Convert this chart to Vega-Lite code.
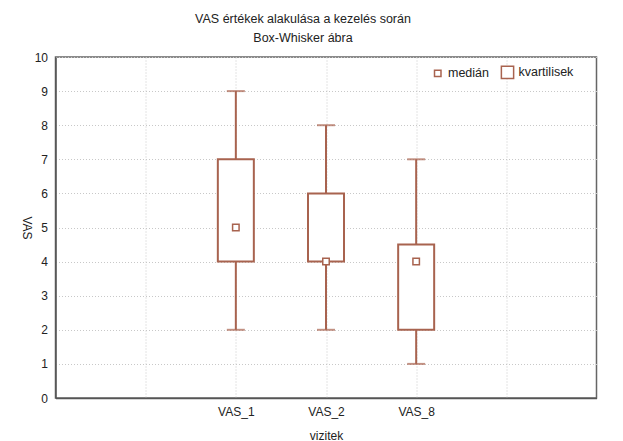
{
  "$schema": "https://vega.github.io/schema/vega-lite/v6.json",
  "width": 541,
  "height": 341,
  "autosize": {"type": "none"},
  "padding": {"left": 55.5, "top": 57, "right": 26.5, "bottom": 43},
  "background": "white",
  "title": {
    "text": ["VAS értékek alakulása a kezelés során", "Box-Whisker ábra"],
    "anchor": "middle",
    "frame": "group",
    "dx": -23,
    "offset": 7,
    "fontSize": 12.5,
    "fontWeight": "normal",
    "font": "Liberation Sans",
    "color": "#222222",
    "lineHeight": 19
  },
  "config": {
    "font": "Liberation Sans",
    "view": {"stroke": "#666666", "strokeWidth": 1.5},
    "axis": {
      "labelFont": "Liberation Sans",
      "titleFont": "Liberation Sans",
      "labelFontSize": 12,
      "titleFontSize": 12,
      "titleFontWeight": "normal",
      "labelColor": "#222222",
      "titleColor": "#222222",
      "domainColor": "#555555",
      "domainWidth": 1.5,
      "gridColor": "#c8c8c8",
      "gridDash": [1, 2],
      "gridWidth": 1,
      "ticks": false,
      "labelOverlap": false
    }
  },
  "data": {
    "values": [
      {"visit": "VAS_1", "min": 2, "q1": 4, "median": 5, "q3": 7, "max": 9},
      {"visit": "VAS_2", "min": 2, "q1": 4, "median": 4, "q3": 6, "max": 8},
      {"visit": "VAS_8", "min": 1, "q1": 2, "median": 4, "q3": 4.5, "max": 7}
    ]
  },
  "encoding": {
    "x": {
      "field": "visit",
      "type": "nominal",
      "scale": {"type": "point", "domain": [" ", "VAS_1", "VAS_2", "VAS_8", "  "], "padding": 1},
      "axis": {"title": "vizitek", "labelAngle": 0, "labelPadding": 8, "titlePadding": 13, "grid": true}
    }
  },
  "layer": [
    {
      "mark": {"type": "rule", "color": "#a8634f", "strokeWidth": 2},
      "encoding": {
        "y": {
          "field": "min",
          "type": "quantitative",
          "title": "VAS",
          "scale": {"domain": [0, 10], "nice": false},
          "axis": {"title": "VAS", "titleAngle": 90, "values": [0,1,2,3,4,5,6,7,8,9,10], "labelPadding": 8, "titlePadding": 15, "grid": true}
        },
        "y2": {"field": "max"}
      }
    },
    {
      "mark": {"type": "bar", "width": 36, "fill": "white", "stroke": "#a8634f", "strokeWidth": 2},
      "encoding": {
        "y": {
          "field": "q1",
          "type": "quantitative",
          "title": "VAS",
          "scale": {"domain": [0, 10], "nice": false},
          "axis": {"title": "VAS", "titleAngle": 90, "values": [0,1,2,3,4,5,6,7,8,9,10], "labelPadding": 8, "titlePadding": 15, "grid": true}
        },
        "y2": {"field": "q3"}
      }
    },
    {
      "mark": {"type": "tick", "color": "#a8634f", "size": 18, "thickness": 2, "orient": "horizontal"},
      "encoding": {
        "y": {
          "field": "min",
          "type": "quantitative",
          "title": "VAS",
          "scale": {"domain": [0, 10], "nice": false},
          "axis": {"title": "VAS", "titleAngle": 90, "values": [0,1,2,3,4,5,6,7,8,9,10], "labelPadding": 8, "titlePadding": 15, "grid": true}
        }
      }
    },
    {
      "mark": {"type": "tick", "color": "#a8634f", "size": 18, "thickness": 2, "orient": "horizontal"},
      "encoding": {
        "y": {
          "field": "max",
          "type": "quantitative",
          "title": "VAS",
          "scale": {"domain": [0, 10], "nice": false},
          "axis": {"title": "VAS", "titleAngle": 90, "values": [0,1,2,3,4,5,6,7,8,9,10], "labelPadding": 8, "titlePadding": 15, "grid": true}
        }
      }
    },
    {
      "mark": {"type": "point", "shape": "square", "filled": false, "fill": "white", "fillOpacity": 1, "stroke": "#a8634f", "strokeWidth": 1.5, "opacity": 1},
      "encoding": {
        "y": {
          "field": "median",
          "type": "quantitative",
          "title": "VAS",
          "scale": {"domain": [0, 10], "nice": false},
          "axis": {"title": "VAS", "titleAngle": 90, "values": [0,1,2,3,4,5,6,7,8,9,10], "labelPadding": 8, "titlePadding": 15, "grid": true}
        },
        "size": {
          "datum": "medián",
          "type": "nominal",
          "scale": {"domain": ["medián", "kvartilisek"], "range": [42, 150]},
          "legend": {
            "title": null,
            "orient": "none",
            "legendX": 376,
            "legendY": 8,
            "direction": "horizontal",
            "symbolType": "square",
            "labelFontSize": 12.5,
            "labelFont": "Liberation Sans",
            "labelColor": "#222222",
            "columnPadding": 8,
            "labelOffset": 4,
            "encode": {
              "symbols": {
                "update": {
                  "stroke": {"value": "#a8634f"},
                  "fill": {"value": "white"},
                  "fillOpacity": {"value": 1},
                  "strokeOpacity": {"value": 1},
                  "opacity": {"value": 1},
                  "strokeWidth": {"value": 1.5},
                  "shape": {"value": "square"}
                }
              }
            }
          }
        }
      }
    }
  ]
}
